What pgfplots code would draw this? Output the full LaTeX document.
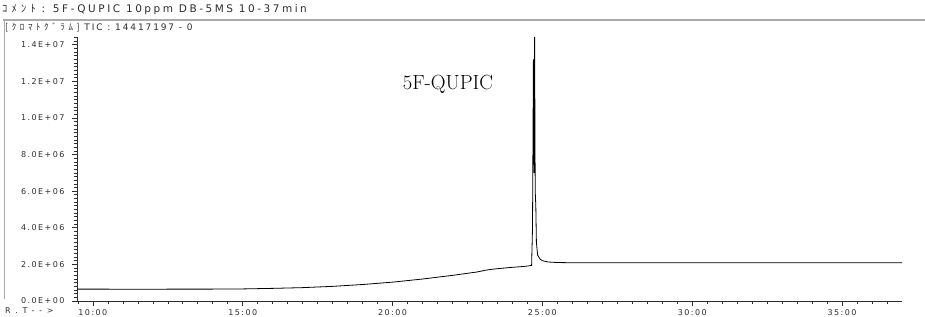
\documentclass[border=0pt]{standalone}
\usepackage{fontspec}
\usepackage{pgfplots}
\pgfplotsset{compat=1.18}
\newfontfamily\tickf[LetterSpace=18]{DejaVu Sans}
\newfontfamily\hdrf[LetterSpace=24]{DejaVu Sans}
\newfontfamily\hdrg[LetterSpace=21]{DejaVu Sans}
\newfontfamily\rtf[LetterSpace=60]{DejaVu Sans}
\newfontfamily\jp[LetterSpace=40]{Noto Sans CJK JP}
\definecolor{framegray}{RGB}{170,170,170}
\definecolor{ink}{RGB}{45,45,45}
% intensities in units of 1E+06 counts
\begin{document}
\begin{tikzpicture}
\path[use as bounding box] (0pt,0pt) rectangle (925pt,316pt);
\draw[framegray, line width=1.3pt] (3pt,296pt) -- (925pt,296pt);
\draw[framegray, line width=1.3pt] (4.5pt,296.6pt) -- (4.5pt,17pt);
\node[anchor=west, inner sep=0pt, ink] at (2pt,306pt) {\fontsize{10.5}{12}\selectfont{\jp ｺﾒﾝﾄ}\hdrf{} : 5F-QUPIC 10ppm DB-5MS 10-37min};
\node[anchor=west, inner sep=0pt, ink] at (5pt,289pt) {\fontsize{9}{10}\selectfont{\jp [ｸﾛﾏﾄｸﾞﾗﾑ]}\hdrg{} TIC : 14417197 - 0};
\node[anchor=west, inner sep=0pt, ink] at (5pt,5pt) {\fontsize{8}{9}\selectfont\rtf R.T-{}-{}>};
\begin{axis}[
  at={(77pt,15pt)}, anchor=south west,
  width=825pt, height=264pt, scale only axis,
  xmin=9.47, xmax=37, ymin=0, ymax=14.417197,
  axis x line*=bottom, axis y line*=left,
  axis line style={-, ink, line width=0.8pt},
  tick align=outside,
  major tick length=5pt,
  tick style={ink, line width=0.7pt},
  xtick={10,15,20,25,30,35},
  xticklabels={10:00,15:00,20:00,25:00,30:00,35:00},
  ytick={0,2,4,6,8,10,12,14},
  yticklabels={0.0E+00,2.0E+06,4.0E+06,6.0E+06,8.0E+06,1.0E+07,1.2E+07,1.4E+07},
  extra x ticks={9.5,10.5,11,11.5,12,12.5,13,13.5,14,14.5,15.5,16,16.5,17,17.5,18,18.5,19,19.5,20.5,21,21.5,22,22.5,23,23.5,24,24.5,25.5,26,26.5,27,27.5,28,28.5,29,29.5,30.5,31,31.5,32,32.5,33,33.5,34,34.5,35.5,36,36.5},
  extra x tick labels={},
  extra y ticks={0.2,0.4,0.6,0.8,1.0,1.2,1.4,1.6,1.8,2.2,2.4,2.6,2.8,3.0,3.2,3.4,3.6,3.8,4.2,4.4,4.6,4.8,5.0,5.2,5.4,5.6,5.8,6.2,6.4,6.6,6.8,7.0,7.2,7.4,7.6,7.8,8.2,8.4,8.6,8.8,9.0,9.2,9.4,9.6,9.8,10.2,10.4,10.6,10.8,11.0,11.2,11.4,11.6,11.8,12.2,12.4,12.6,12.8,13.0,13.2,13.4,13.6,13.8,14.2,14.4},
  extra y tick labels={},
  extra tick style={major tick length=3pt, tick style={ink, line width=0.6pt}},
  ticklabel style={font=\fontsize{8}{9}\selectfont\tickf, text=ink},
  yticklabel style={xshift=-4pt},
  clip=false,
]
\addplot[black, line width=0.8pt] coordinates {
(9.47,0.650) (10,0.650) (11,0.645) (12,0.645) (13,0.650) (14,0.650)
(15,0.660) (16,0.690) (17,0.730) (18,0.800) (18.6,0.860) (19,0.900)
(20,1.030) (21,1.200) (22,1.400) (22.8,1.580) (23.1,1.680) (23.3,1.730)
(23.6,1.780) (24,1.840) (24.4,1.890) (24.64,1.940)
(24.67,4.0) (24.70,13.2) (24.72,7.0) (24.74,14.417197) (24.76,6.0)
(24.78,5.2) (24.80,3.2) (24.84,2.5) (24.92,2.3) (25.0,2.2)
(25.2,2.13) (25.5,2.10) (26,2.09) (28,2.09) (30,2.09) (32,2.09)
(34,2.09) (36,2.09) (37,2.09)
};
\node[font=\fontsize{20.5}{24}\selectfont] at (axis cs:21.85,11.81) {5F-QUPIC};
\end{axis}
\end{tikzpicture}
\end{document}
